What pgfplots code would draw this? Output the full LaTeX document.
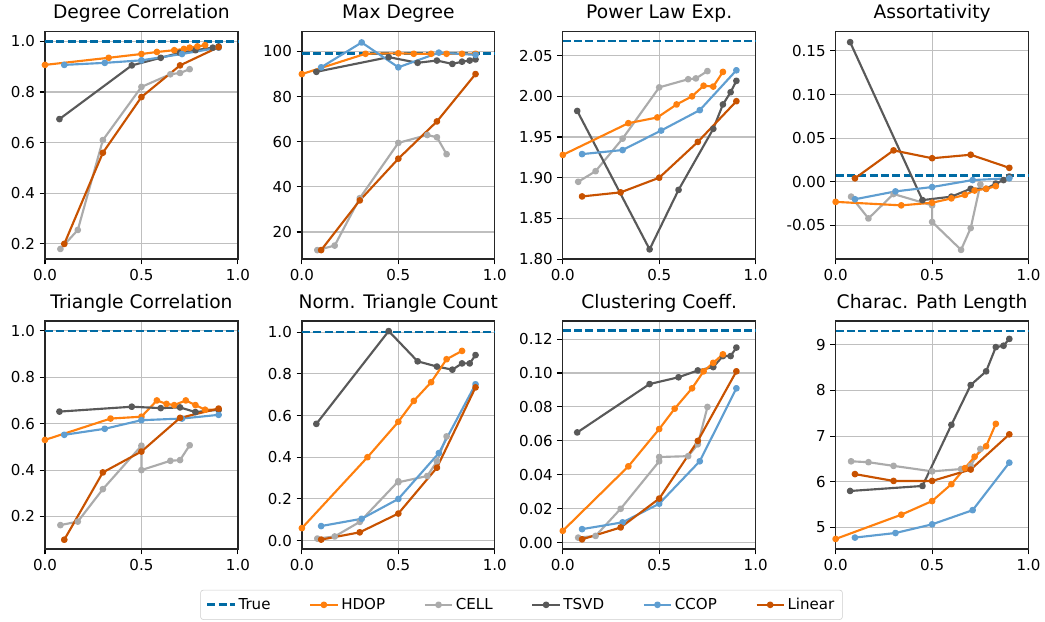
\documentclass[border=0pt]{standalone}
\usepackage{pgfplots}
\pgfplotsset{compat=1.18}
\usepackage{fontspec}
\setmainfont{DejaVu Sans}
\definecolor{cT}{HTML}{006BA4}
\definecolor{cHD}{HTML}{FF800E}
\definecolor{cCE}{HTML}{ABABAB}
\definecolor{cTS}{HTML}{595959}
\definecolor{cCC}{HTML}{5F9ED1}
\definecolor{cLI}{HTML}{C85200}
\pgfplotsset{
 base/.style={scale only axis, width=193*0.75pt, height=228*0.75pt, anchor=south west,
  xmin=0,xmax=1, xtick={0,0.5,1}, xticklabels={0.0,0.5,1.0},
  xtick pos=bottom, ytick pos=left,
  grid=major, major grid style={color=black!25, line width=0.8pt},
  axis line style={color=black!85, line width=1pt},
  tick style={color=black, line width=0.8pt}, tick align=outside, major tick length=4pt,
  ticklabel style={font=\fontsize{11.3}{13}\selectfont},
  /pgf/number format/assume math mode=true,
  title style={font=\fontsize{14}{16}\selectfont, yshift=-3pt},
  clip=false, every axis plot/.append style={line join=round},
  legend image code/.code={\draw[mark repeat=2,mark phase=2] plot coordinates {(0cm,0cm)(0.36cm,0cm)(0.72cm,0cm)};}},
 tr/.style={cT, line width=2pt, dash pattern=on 6pt off 2.5pt},
 ser/.style={line width=1.6pt, mark=*, mark size=1.7pt},
 hd/.style={ser, cHD}, ce/.style={ser, cCE}, ts/.style={ser, cTS},
 cc/.style={ser, cCC}, li/.style={ser, cLI},
}
\begin{document}
\begin{tikzpicture}
\path (0,0) rectangle (1045*0.75pt,621*0.75pt);
% 1 Degree Correlation
\begin{axis}[base, at={(45*0.75pt,363*0.75pt)}, title={Degree Correlation}, ymin=0.14, ymax=1.04, ytick={0.2,0.4,0.6,0.8,1.0}, yticklabel style={/pgf/number format/.cd,fixed,fixed zerofill,precision=1}]
\addplot[tr, domain=0:1, samples=2] coordinates {(0,1)(1,1)};
\addplot[ce] coordinates {(0.08,0.18)(0.17,0.255)(0.3,0.61)(0.5,0.82)(0.65,0.87)(0.7,0.875)(0.75,0.89)};
\addplot[ts] coordinates {(0.075,0.693)(0.45,0.905)(0.6,0.935)(0.7,0.955)(0.78,0.965)(0.87,0.975)(0.9,0.98)};
\addplot[hd] coordinates {(0,0.907)(0.33,0.935)(0.5,0.95)(0.58,0.958)(0.67,0.965)(0.72,0.97)(0.75,0.975)(0.79,0.98)(0.83,0.985)};
\addplot[cc] coordinates {(0.1,0.907)(0.31,0.915)(0.5,0.925)(0.71,0.95)(0.9,0.975)};
\addplot[li] coordinates {(0.1,0.2)(0.3,0.56)(0.5,0.78)(0.7,0.905)(0.9,0.977)};
\end{axis}
% 2 Max Degree
\begin{axis}[base, at={(302*0.75pt,363*0.75pt)}, title={Max Degree}, ymin=8, ymax=109, ytick={20,40,60,80,100}]
\addplot[tr] coordinates {(0,99)(1,99)};
\addplot[ce] coordinates {(0.08,12)(0.17,14)(0.3,35)(0.5,59.5)(0.65,63)(0.7,62)(0.75,54.5)};
\addplot[ts] coordinates {(0.075,91)(0.45,97.5)(0.6,95)(0.7,96)(0.78,94.5)(0.83,95.5)(0.87,96)(0.9,96.5)};
\addplot[hd] coordinates {(0,90)(0.33,99)(0.5,99.2)(0.58,99)(0.67,99)(0.75,99)(0.83,99)(0.9,99)};
\addplot[cc] coordinates {(0.1,93)(0.31,104)(0.5,93)(0.71,99.5)(0.9,98.5)};
\addplot[li] coordinates {(0.1,12)(0.3,34)(0.5,52.5)(0.7,69)(0.9,90)};
\end{axis}
% 3 Power Law
\begin{axis}[base, at={(563*0.75pt,363*0.75pt)}, title={Power Law Exp.}, ymin=1.80, ymax=2.080, ytick={1.80,1.85,1.90,1.95,2.00,2.05}, yticklabel style={/pgf/number format/.cd,fixed,fixed zerofill,precision=2}]
\addplot[tr] coordinates {(0,2.068)(1,2.068)};
\addplot[ce] coordinates {(0.08,1.895)(0.17,1.908)(0.31,1.948)(0.5,2.011)(0.65,2.021)(0.69,2.022)(0.75,2.031)};
\addplot[ts] coordinates {(0.075,1.982)(0.45,1.812)(0.6,1.885)(0.78,1.960)(0.83,1.990)(0.87,2.005)(0.9,2.019)};
\addplot[hd] coordinates {(0,1.928)(0.34,1.967)(0.49,1.974)(0.59,1.990)(0.67,2.000)(0.73,2.013)(0.78,2.012)(0.83,2.030)};
\addplot[cc] coordinates {(0.1,1.929)(0.31,1.934)(0.51,1.958)(0.71,1.983)(0.9,2.032)};
\addplot[li] coordinates {(0.1,1.877)(0.3,1.882)(0.5,1.900)(0.7,1.944)(0.9,1.994)};
\end{axis}
% 4 Assortativity
\begin{axis}[base, at={(836*0.75pt,363*0.75pt)}, title={Assortativity}, ymin=-0.0886, ymax=0.1726, ytick={-0.05,0,0.05,0.1,0.15}, yticklabel style={/pgf/number format/.cd,fixed,fixed zerofill,precision=2}]
\addplot[tr] coordinates {(0,0.007)(1,0.007)};
\addplot[ce] coordinates {(0.08,-0.017)(0.17,-0.042)(0.3,-0.014)(0.5,-0.027)(0.5,-0.046)(0.65,-0.078)(0.7,-0.053)(0.75,-0.003)};
\addplot[ts] coordinates {(0.075,0.16)(0.45,-0.021)(0.6,-0.017)(0.7,-0.008)(0.78,-0.008)(0.83,-0.002)(0.87,0.002)(0.9,0.006)};
\addplot[hd] coordinates {(0,-0.023)(0.34,-0.027)(0.5,-0.024)(0.6,-0.019)(0.67,-0.015)(0.72,-0.01)(0.78,-0.008)(0.83,-0.005)};
\addplot[cc] coordinates {(0.1,-0.02)(0.31,-0.011)(0.5,-0.006)(0.71,0.002)(0.9,0.004)};
\addplot[li] coordinates {(0.1,0.004)(0.3,0.036)(0.5,0.027)(0.7,0.031)(0.9,0.016)};
\end{axis}
% 5 Triangle Correlation
\begin{axis}[base, at={(45*0.75pt,73*0.75pt)}, title={Triangle Correlation}, ymin=0.06, ymax=1.042, ytick={0.2,0.4,0.6,0.8,1.0}, yticklabel style={/pgf/number format/.cd,fixed,fixed zerofill,precision=1},
 legend columns=6, legend style={at={(2.47,-0.245)}, anchor=center, draw=black!20, rounded corners=2pt, font=\fontsize{11.3}{13}\selectfont, inner sep=4pt, /tikz/every even column/.append style={column sep=27pt}}, legend cell align=left]
\addplot[tr] coordinates {(0,1)(1,1)};
\addlegendentry{True}
\addplot[hd] coordinates {(0,0.53)(0.34,0.622)(0.5,0.63)(0.58,0.70)(0.63,0.685)(0.67,0.68)(0.73,0.70)(0.78,0.68)(0.83,0.66)(0.9,0.66)};
\addlegendentry{HDOP}
\addplot[ce] coordinates {(0.08,0.163)(0.17,0.178)(0.3,0.318)(0.5,0.505)(0.5,0.40)(0.65,0.44)(0.7,0.443)(0.75,0.507)};
\addlegendentry{CELL}
\addplot[ts] coordinates {(0.075,0.652)(0.45,0.673)(0.6,0.667)(0.7,0.67)(0.78,0.65)(0.9,0.66)};
\addlegendentry{TSVD}
\addplot[cc] coordinates {(0.1,0.552)(0.31,0.578)(0.5,0.615)(0.71,0.622)(0.9,0.638)};
\addlegendentry{CCOP}
\addplot[li] coordinates {(0.1,0.10)(0.3,0.39)(0.5,0.48)(0.7,0.625)(0.9,0.665)};
\addlegendentry{Linear}
\end{axis}
% 6 Norm Triangle Count
\begin{axis}[base, at={(302*0.75pt,73*0.75pt)}, title={Norm. Triangle Count}, ymin=-0.04, ymax=1.053, ytick={0,0.2,0.4,0.6,0.8,1.0}, yticklabel style={/pgf/number format/.cd,fixed,fixed zerofill,precision=1}]
\addplot[tr] coordinates {(0,1)(1,1)};
\addplot[ce] coordinates {(0.08,0.01)(0.17,0.02)(0.3,0.09)(0.5,0.285)(0.5,0.28)(0.65,0.31)(0.7,0.38)(0.75,0.50)};
\addplot[ts] coordinates {(0.075,0.56)(0.45,1.005)(0.6,0.86)(0.7,0.835)(0.78,0.82)(0.83,0.85)(0.87,0.85)(0.9,0.89)};
\addplot[hd] coordinates {(0,0.06)(0.34,0.40)(0.5,0.57)(0.58,0.67)(0.67,0.76)(0.75,0.87)(0.83,0.91)};
\addplot[cc] coordinates {(0.1,0.07)(0.31,0.105)(0.5,0.20)(0.71,0.42)(0.9,0.75)};
\addplot[li] coordinates {(0.1,0.005)(0.3,0.04)(0.5,0.13)(0.7,0.35)(0.9,0.735)};
\end{axis}
% 7 Clustering
\begin{axis}[base, at={(563*0.75pt,73*0.75pt)}, title={Clustering Coeff.}, ymin=-0.0037, ymax=0.1306, ytick={0,0.02,0.04,0.06,0.08,0.10,0.12}, yticklabel style={/pgf/number format/.cd,fixed,fixed zerofill,precision=2}]
\addplot[tr] coordinates {(0,0.125)(1,0.125)};
\addplot[ce] coordinates {(0.08,0.003)(0.17,0.004)(0.3,0.020)(0.5,0.048)(0.5,0.0505)(0.65,0.051)(0.7,0.058)(0.75,0.080)};
\addplot[ts] coordinates {(0.075,0.065)(0.45,0.0935)(0.6,0.0975)(0.7,0.1015)(0.78,0.1035)(0.83,0.11)(0.87,0.11)(0.9,0.115)};
\addplot[hd] coordinates {(0,0.007)(0.34,0.045)(0.5,0.067)(0.58,0.079)(0.67,0.091)(0.73,0.101)(0.78,0.106)(0.83,0.111)};
\addplot[cc] coordinates {(0.1,0.008)(0.31,0.012)(0.5,0.023)(0.71,0.048)(0.9,0.091)};
\addplot[li] coordinates {(0.1,0.002)(0.3,0.009)(0.5,0.026)(0.7,0.060)(0.9,0.101)};
\end{axis}
% 8 Path length
\begin{axis}[base, at={(836*0.75pt,73*0.75pt)}, title={Charac. Path Length}, ymin=4.53, ymax=9.52, ytick={5,6,7,8,9}]
\addplot[tr] coordinates {(0,9.3)(1,9.3)};
\addplot[ce] coordinates {(0.08,6.45)(0.17,6.43)(0.3,6.35)(0.5,6.23)(0.65,6.28)(0.7,6.35)(0.75,6.72)};
\addplot[ts] coordinates {(0.075,5.8)(0.45,5.91)(0.6,7.25)(0.7,8.12)(0.78,8.42)(0.83,8.95)(0.87,8.98)(0.9,9.13)};
\addplot[hd] coordinates {(0,4.75)(0.34,5.28)(0.5,5.58)(0.6,5.95)(0.67,6.3)(0.72,6.55)(0.78,6.78)(0.83,7.27)};
\addplot[cc] coordinates {(0.1,4.78)(0.31,4.88)(0.5,5.07)(0.71,5.38)(0.9,6.42)};
\addplot[li] coordinates {(0.1,6.17)(0.3,6.02)(0.5,6.02)(0.7,6.27)(0.9,7.04)};
\end{axis}
\end{tikzpicture}
\end{document}
